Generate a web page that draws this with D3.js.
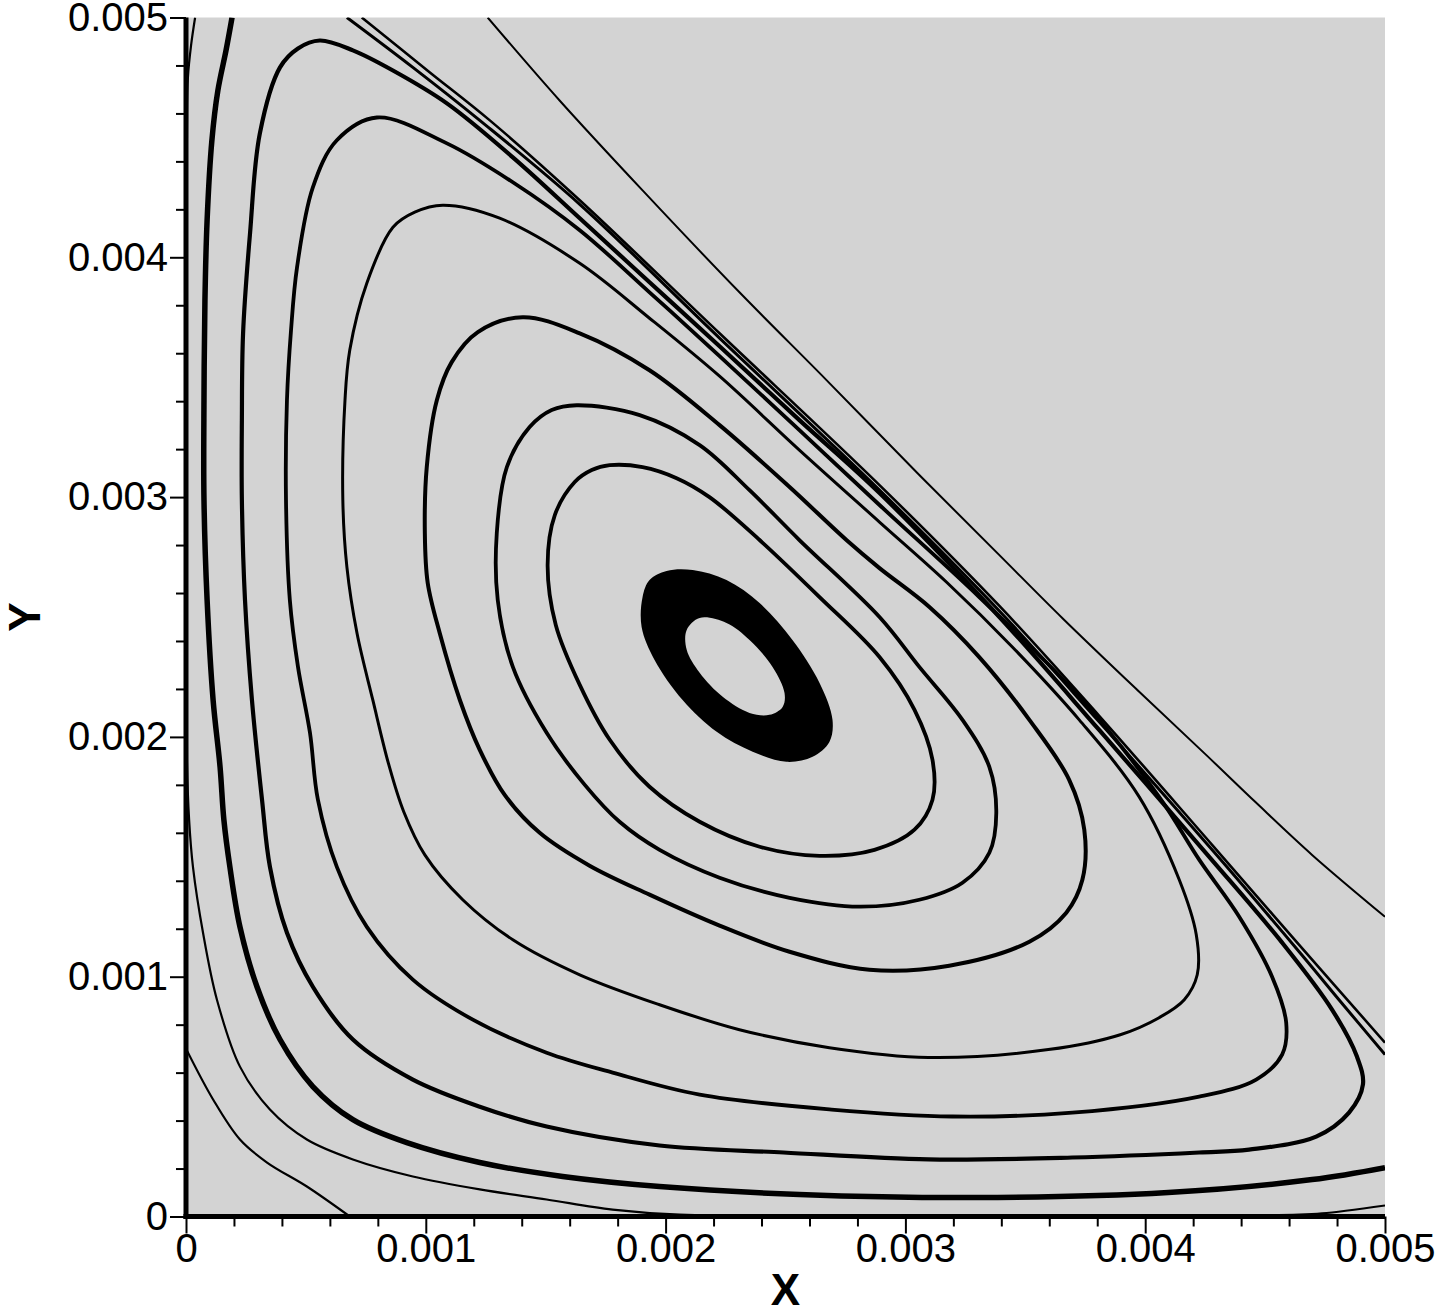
<!DOCTYPE html>
<html><head><meta charset="utf-8">
<script src="https://cdn.jsdelivr.net/npm/d3@7"></script>
<style>
html,body{margin:0;padding:0;background:#fff;}
svg{display:block;}
text{font-family:"Liberation Sans",Arial,Helvetica,sans-serif;fill:#000;}
</style></head><body>
<svg id="chart" width="1439" height="1314"></svg>
<script>
// ---------- axis data ----------
const xTicks = [0, 0.001, 0.002, 0.003, 0.004, 0.005];
const yTicks = [0, 0.001, 0.002, 0.003, 0.004, 0.005];
const xTickLabels = ["0", "0.001", "0.002", "0.003", "0.004", "0.005"];
const yTickLabels = ["0", "0.001", "0.002", "0.003", "0.004", "0.005"];
const minorTicks = [0.0002,0.0004,0.0006,0.0008,0.0012,0.0014,0.0016,0.0018,
                    0.0022,0.0024,0.0026,0.0028,0.0032,0.0034,0.0036,0.0038,
                    0.0042,0.0044,0.0046,0.0048];
const xTitle = "X";
const yTitle = "Y";

// ---------- streamline points, in units of 0.001 ----------
const UNIT = 0.001;
const ringOuter = [[1.904,2.583],[1.933,2.654],[2.004,2.692],[2.113,2.696],[2.254,2.654],[2.392,2.558],[2.529,2.404],[2.642,2.225],[2.696,2.071],[2.683,1.979],[2.613,1.917],[2.504,1.896],[2.363,1.938],[2.213,2.021],[2.071,2.154],[1.954,2.321],[1.900,2.458]];
const ringInner = [[2.142,2.496],[2.254,2.475],[2.350,2.404],[2.446,2.292],[2.496,2.183],[2.488,2.125],[2.433,2.092],[2.350,2.100],[2.238,2.167],[2.142,2.267],[2.088,2.363],[2.088,2.446]];
const streamF = [[1.767,3.133],[1.904,3.125],[2.046,3.079],[2.183,3.000],[2.392,2.821],[2.642,2.583],[2.892,2.333],[3.038,2.113],[3.113,1.904],[3.113,1.738],[3.038,1.613],[2.871,1.529],[2.642,1.504],[2.392,1.542],[2.142,1.646],[1.933,1.792],[1.767,1.988],[1.642,2.217],[1.542,2.467],[1.508,2.717],[1.538,2.925],[1.621,3.063],[1.692,3.113]];
const streamE = [[1.629,3.383],[1.892,3.342],[2.142,3.217],[2.350,3.029],[2.558,2.821],[2.892,2.500],[3.058,2.292],[3.238,2.071],[3.350,1.875],[3.379,1.683],[3.350,1.517],[3.238,1.392],[3.058,1.321],[2.808,1.292],[2.517,1.329],[2.225,1.413],[1.975,1.529],[1.808,1.646],[1.663,1.800],[1.504,2.017],[1.363,2.292],[1.300,2.571],[1.296,2.850],[1.338,3.125],[1.433,3.292],[1.525,3.363]];
const streamD = [[1.404,3.750],[1.642,3.683],[1.933,3.529],[2.225,3.300],[2.517,3.042],[2.754,2.821],[2.892,2.704],[3.100,2.542],[3.308,2.333],[3.517,2.071],[3.683,1.821],[3.746,1.613],[3.738,1.404],[3.671,1.267],[3.517,1.146],[3.183,1.046],[2.850,1.029],[2.517,1.104],[2.225,1.213],[1.933,1.342],[1.683,1.463],[1.475,1.600],[1.329,1.758],[1.225,1.946],[1.142,2.154],[1.058,2.433],[1.008,2.642],[0.996,2.850],[1.004,3.125],[1.046,3.404],[1.108,3.563],[1.217,3.688]];
const streamC = [[1.071,4.217],[1.308,4.163],[1.642,3.975],[1.933,3.746],[2.225,3.504],[2.558,3.196],[2.892,2.896],[3.171,2.646],[3.446,2.375],[3.725,2.071],[3.975,1.750],[4.142,1.404],[4.213,1.175],[4.217,1.008],[4.163,0.904],[4.058,0.829],[3.896,0.758],[3.596,0.696],[3.096,0.663],[2.683,0.704],[2.308,0.779],[1.975,0.883],[1.642,1.008],[1.363,1.154],[1.154,1.321],[0.996,1.508],[0.908,1.688],[0.846,1.883],[0.779,2.154],[0.713,2.433],[0.671,2.708],[0.654,2.988],[0.663,3.404],[0.683,3.613],[0.754,3.892],[0.863,4.125],[0.954,4.188]];
const streamB = [[0.796,4.583],[1.088,4.475],[1.363,4.313],[1.642,4.113],[1.933,3.854],[2.225,3.588],[2.558,3.279],[2.892,2.967],[3.308,2.583],[3.725,2.167],[4.058,1.750],[4.225,1.488],[4.392,1.250],[4.529,1.000],[4.588,0.808],[4.571,0.675],[4.463,0.571],[4.225,0.500],[3.696,0.433],[3.196,0.417],[2.692,0.446],[2.142,0.508],[1.779,0.600],[1.504,0.683],[1.196,0.821],[0.946,0.988],[0.754,1.208],[0.629,1.458],[0.550,1.738],[0.517,2.017],[0.467,2.292],[0.433,2.571],[0.417,2.988],[0.421,3.404],[0.438,3.696],[0.463,3.958],[0.529,4.292],[0.629,4.488]];
const streamA = [[0.558,4.904],[0.696,4.863],[0.863,4.779],[1.088,4.642],[1.363,4.417],[1.642,4.163],[1.933,3.896],[2.225,3.629],[2.558,3.321],[2.892,3.017],[3.392,2.500],[3.808,2.029],[4.267,1.500],[4.571,1.142],[4.779,0.863],[4.883,0.667],[4.908,0.550],[4.850,0.433],[4.713,0.333],[4.433,0.279],[4.225,0.267],[3.696,0.246],[3.096,0.238],[2.492,0.267],[1.975,0.296],[1.504,0.375],[1.225,0.458],[0.946,0.571],[0.696,0.738],[0.529,0.958],[0.421,1.183],[0.350,1.458],[0.317,1.738],[0.275,2.154],[0.246,2.571],[0.233,2.988],[0.233,3.321],[0.238,3.683],[0.267,4.100],[0.308,4.517],[0.392,4.792],[0.467,4.871]];
const streamD1 = [[0.733,5.0],[1.017,4.771],[1.267,4.571],[1.642,4.238],[2.225,3.683],[2.892,3.050],[3.392,2.546],[3.808,2.088],[4.279,1.550],[4.642,1.133],[5.0,0.725]];
const streamD2 = [[0.671,5.0],[0.946,4.792],[1.225,4.571],[1.642,4.221],[2.225,3.663],[2.892,3.029],[3.392,2.525],[3.808,2.063],[4.279,1.529],[4.642,1.104],[4.808,0.904],[5.0,0.675]];
const streamD3 = [[1.258,5.0],[1.558,4.654],[1.904,4.279],[2.308,3.854],[2.671,3.488],[3.058,3.092],[3.392,2.758],[3.654,2.496],[3.975,2.188],[4.254,1.925],[4.463,1.725],[4.696,1.508],[5.0,1.250]];
const streamT = [[0.192,5.0],[0.167,4.863],[0.133,4.696],[0.108,4.488],[0.088,4.154],[0.079,3.821],[0.075,3.404],[0.075,2.988],[0.088,2.571],[0.113,2.154],[0.142,1.875],[0.158,1.654],[0.183,1.458],[0.225,1.208],[0.296,0.958],[0.392,0.738],[0.529,0.542],[0.696,0.404],[0.921,0.308],[1.225,0.225],[1.571,0.167],[1.975,0.125],[2.558,0.092],[3.296,0.079],[4.096,0.100],[4.696,0.154],[5.0,0.204]];
const streamL = [[0.038,5.0],[0.021,4.883],[0.008,4.750],[0.004,4.529],[0.004,1.904],[0.013,1.654],[0.029,1.458],[0.071,1.183],[0.129,0.904],[0.225,0.625],[0.350,0.446],[0.504,0.321],[0.696,0.238],[0.946,0.167],[1.225,0.113],[1.504,0.071],[1.779,0.029],[2.058,0.008],[4.642,0.008],[4.738,0.013],[5.0,0.046]];
const streamK = [[0.0,0.700],[0.113,0.488],[0.225,0.321],[0.338,0.225],[0.504,0.125],[0.683,0.0]];

// ---------- drawing ----------
const streamlines = [
  {id:"L", pts:streamL, closed:false},
  {id:"K", pts:streamK, closed:false},
  {id:"T", pts:streamT, closed:false},
  {id:"D3", pts:streamD3, closed:false},
  {id:"D1", pts:streamD1, closed:false},
  {id:"D2", pts:streamD2, closed:false},
  {id:"A", pts:streamA, closed:true},
  {id:"B", pts:streamB, closed:true},
  {id:"C", pts:streamC, closed:true},
  {id:"D", pts:streamD, closed:true},
  {id:"E", pts:streamE, closed:true},
  {id:"F", pts:streamF, closed:true}
];
const strokeWidth = {L:2.2, K:2.2, T:5.5, D3:2, D1:2.6, D2:3, A:4.2, B:3.8, C:3, D:4, E:3.8, F:3.8};

const svg = d3.select("#chart");
const x = d3.scaleLinear().domain([0, 0.005]).range([186, 1385]);
const y = d3.scaleLinear().domain([0, 0.005]).range([1216.5, 17.5]);

svg.append("defs").append("clipPath").attr("id","plotclip")
  .append("rect")
  .attr("x", x(0)).attr("y", y(0.005))
  .attr("width", x(0.005) - x(0)).attr("height", y(0) - y(0.005));

svg.append("rect")
  .attr("x", x(0)).attr("y", y(0.005))
  .attr("width", x(0.005) - x(0)).attr("height", y(0) - y(0.005))
  .attr("fill", "#d3d3d3");

const plot = svg.append("g").attr("clip-path","url(#plotclip)");
const lineOpen = d3.line().x(d => x(d[0]*UNIT)).y(d => y(d[1]*UNIT)).curve(d3.curveCatmullRom.alpha(0.5));
const lineClosed = d3.line().x(d => x(d[0]*UNIT)).y(d => y(d[1]*UNIT)).curve(d3.curveCatmullRomClosed.alpha(0.5));

plot.selectAll("path.stream").data(streamlines).join("path")
  .attr("class","stream")
  .attr("d", d => d.closed ? lineClosed(d.pts) : lineOpen(d.pts))
  .attr("fill","none").attr("stroke","#000")
  .attr("stroke-width", d => strokeWidth[d.id])
  .attr("stroke-linejoin","round");

plot.append("path")
  .attr("d", lineClosed(ringOuter) + lineClosed(ringInner))
  .attr("fill","#000").attr("fill-rule","evenodd");

// axes
svg.append("g").attr("transform",`translate(0,${y(0)})`)
  .call(d3.axisBottom(x).tickValues(minorTicks).tickSize(10).tickSizeOuter(0).tickFormat(""));
svg.append("g").attr("transform",`translate(0,${y(0)})`)
  .call(d3.axisBottom(x).tickValues(xTicks).tickSize(17).tickSizeOuter(0).tickPadding(0)
        .tickFormat((d,i) => xTickLabels[i]));
svg.append("g").attr("transform",`translate(${x(0)},0)`)
  .call(d3.axisLeft(y).tickValues(minorTicks).tickSize(10).tickSizeOuter(0).tickFormat(""));
svg.append("g").attr("transform",`translate(${x(0)},0)`)
  .call(d3.axisLeft(y).tickValues(yTicks).tickSize(16).tickSizeOuter(0).tickPadding(2)
        .tickFormat((d,i) => yTickLabels[i]));

svg.selectAll(".domain").remove();
svg.selectAll(".tick line").attr("stroke","#000").attr("stroke-width",2);
svg.selectAll(".tick text").attr("font-size", 40).attr("font-family","Liberation Sans, Arial, sans-serif").attr("fill","#000");

svg.append("line").attr("x1", x(0)).attr("x2", x(0)).attr("y1", y(0.005)).attr("y2", y(0)+2.5)
  .attr("stroke","#000").attr("stroke-width",5);
svg.append("line").attr("x1", x(0)-2.5).attr("x2", x(0.005)).attr("y1", y(0)).attr("y2", y(0))
  .attr("stroke","#000").attr("stroke-width",5);

svg.append("text").attr("x", (x(0)+x(0.005))/2).attr("y", 1305)
  .attr("text-anchor","middle").attr("font-size",44).attr("font-weight","bold").text(xTitle);
svg.append("text").attr("transform",`translate(40,${(y(0)+y(0.005))/2}) rotate(-90)`)
  .attr("text-anchor","middle").attr("font-size",44).attr("font-weight","bold").text(yTitle);
</script>
</body></html>
